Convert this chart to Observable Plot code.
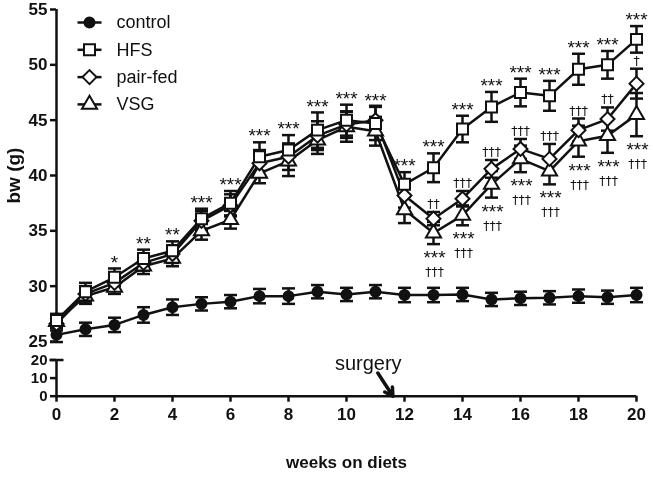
<!DOCTYPE html>
<html><head><meta charset="utf-8">
<script src="https://cdn.jsdelivr.net/npm/d3@7"></script>
<script src="https://cdn.jsdelivr.net/npm/@observablehq/plot@0.6"></script>
<style>
body{margin:0;background:#fff}
#chart{position:relative;width:653px;height:480px;background:#fff}
#chart svg{position:absolute;left:0;top:0;font-family:"Liberation Sans",Arial,sans-serif;will-change:transform}
</style>
</head><body><div id="chart"></div>
<script>
// ---- data ----
const weeks = [0,1,2,3,4,5,6,7,8,9,10,11,12,13,14,15,16,17,18,19,20];
const seriesNames = ["control","HFS","pair-fed","VSG"];
const control    = [25.6,26.1,26.5,27.4,28.1,28.4,28.6,29.1,29.1,29.5,29.25,29.5,29.2,29.2,29.25,28.8,28.9,28.95,29.1,29.0,29.2];
const controlErr = [0.65,0.6,0.65,0.7,0.7,0.6,0.6,0.65,0.7,0.6,0.6,0.6,0.65,0.65,0.6,0.6,0.6,0.6,0.6,0.6,0.65];
const hfs        = [26.9,29.5,30.8,32.5,33.2,36.1,37.5,41.7,42.3,44.1,45.0,44.7,39.2,40.7,44.2,46.2,47.5,47.2,49.6,50.0,52.3];
const hfsErr     = [0.6,0.8,0.8,0.8,0.85,0.9,1.1,1.3,1.35,1.6,1.4,1.5,1.1,1.3,1.2,1.35,1.25,1.35,1.4,1.25,1.2];
const pairFed    = [26.6,29.3,30.3,32.1,32.9,35.9,37.3,41.1,41.7,43.6,44.6,45.0,38.2,36.1,37.9,40.6,42.4,41.5,44.1,45.1,48.3];
const pairFedErr = [0.6,0.7,0.7,0.7,0.8,0.9,1.0,1.2,1.2,1.3,1.2,1.3,1.1,0.6,0.7,0.8,0.9,1.35,1.05,1.05,1.35];
const vsg        = [26.8,29.1,29.9,31.8,32.5,35.0,36.0,40.2,41.3,43.2,44.4,44.0,36.9,34.8,36.4,39.2,41.5,40.4,43.1,43.6,45.5];
const vsgErr     = [0.6,0.7,0.6,0.7,0.7,0.8,0.8,0.9,1.35,1.25,1.35,1.3,1.2,1.0,0.9,1.2,1.2,1.2,1.4,1.55,1.95];
// significance labels
const hfsStars   = ["","","*","**","**","***","***","***","***","***","***","***","***","***","***","***","***","***","***","***","***"];
const pfDaggers  = ["","","","","","","","","","","","","","††","†††","†††","†††","†††","†††","††","†"];
const vsgStars   = ["","","","","","","","","","","","","","***","***","***","***","***","***","***","***"];
const vsgDaggers = ["","","","","","","","","","","","","","†††","†††","†††","†††","†††","†††","†††","†††"];
// axis ticks (broken axis: upper 25–55, lower 0–20)
const xTicks = [0,2,4,6,8,10,12,14,16,18,20];
const yTicksUpper = [25,30,35,40,45,50,55];
const yTicksLower = [0,10,20];
// surgery annotation (data units: weeks, lower-panel bw)
const surgeryLabel = [{week:10.75, bw:17.8, text:"surgery"}];
const surgeryArrow = [{w1:11.08, b1:12.8, w2:11.6, b2:0}];

// ---- build tables ----
const valuesBy = {control, HFS: hfs, "pair-fed": pairFed, VSG: vsg};
const errBy = {control: controlErr, HFS: hfsErr, "pair-fed": pairFedErr, VSG: vsgErr};
const rows = [];
for (const s of seriesNames) weeks.forEach((w,i)=>rows.push({series:s, week:w, value:valuesBy[s][i], err:errBy[s][i]}));
const ann = weeks.map((w,i)=>({week:w, hfsTop:hfs[i]+hfsErr[i], pfTop:pairFed[i]+pairFedErr[i], vsgBot:vsg[i]-vsgErr[i],
  hs:hfsStars[i], pd:pfDaggers[i], vs:vsgStars[i], vd:vsgDaggers[i]}));

const INK = "#111";
const cap = (hw)=>({draw(ctx){ctx.moveTo(-hw,0); ctx.lineTo(hw,0);}});
const symbolOf = {control:"circle", HFS:"square", "pair-fed":"diamond2", VSG:"triangle"};
const rOf = {control:5, HFS:6.2, "pair-fed":6.3, VSG:5.6};
const baseStyle = {fontFamily: "'Liberation Sans', Arial, sans-serif", fontSize: "19px", fontWeight: "bold", color: INK, background: "transparent"};
const common = {width: 653, height: 480, marginLeft: 56, marginRight: 17, style: baseStyle};

// ---- lower panel: 0–20 with x axis ----
const lower = [];
lower.push(Plot.ruleX([0], {x: d=>d, y1: 0, y2: 20, stroke: INK, strokeWidth: 2.5}));
lower.push(Plot.dot([0], {x: d=>d, y: 20, symbol: cap(7), r: 5, fill: "none", stroke: INK, strokeWidth: 2.5}));
lower.push(Plot.ruleY([0], {y: d=>d, x1: 0, x2: 20, stroke: INK, strokeWidth: 2.5}));
lower.push(Plot.axisY({ticks: yTicksLower, tickSize: 6, tickPadding: 3, strokeWidth: 2.5, stroke: INK, fill: INK,
  fontSize: 15, fontWeight: "bold", label: null}));
lower.push(Plot.axisX({ticks: xTicks, tickSize: 6, tickPadding: 6, strokeWidth: 2.5, stroke: INK, fill: INK,
  fontSize: 17, fontWeight: "bold", label: "weeks on diets", labelAnchor: "center", labelOffset: 72, labelArrow: "none"}));
lower.push(Plot.text(surgeryLabel, {x:"week", y:"bw", text:"text", fontSize:20, fontWeight:"normal", fill: INK, lineAnchor:"middle"}));
lower.push(Plot.arrow(surgeryArrow, {x1:"w1", y1:"b1", x2:"w2", y2:"b2", stroke: INK, strokeWidth: 3.5, headLength: 12, bend: false}));

const lowerPlot = Plot.plot({...common, marginTop: 359.5, marginBottom: 84.3,
  x: {domain: [0,20]}, y: {domain: [0,20]}, marks: lower});

// ---- upper panel: 25–55 with data ----
const upper = [];
upper.push(Plot.ruleX([0], {x: d=>d, y1: 25, y2: 55, stroke: INK, strokeWidth: 2.5}));
upper.push(Plot.axisY({ticks: yTicksUpper, tickSize: 6, tickPadding: 3, strokeWidth: 2.5, stroke: INK, fill: INK,
  fontSize: 17, fontWeight: "bold", label: null}));
upper.push(Plot.text(["bw (g)"], {frameAnchor: "left", dx: -43, dy: 28, rotate: -90, text: d=>d, fontSize: 19, fontWeight: "bold", fill: INK, lineAnchor: "middle"}));

const order = ["control","VSG","pair-fed","HFS"];
for (const s of order) {
  const data = rows.filter(d=>d.series===s);
  upper.push(Plot.ruleX(data, {x:"week", y1: d=>d.value-d.err, y2: d=>d.value+d.err, stroke: INK, strokeWidth: 2.5}));
  upper.push(Plot.dot(data, {x:"week", y: d=>d.value+d.err, symbol: cap(6.5), r: 5, fill:"none", stroke: INK, strokeWidth: 2.5}));
  upper.push(Plot.dot(data, {x:"week", y: d=>d.value-d.err, symbol: cap(6.5), r: 5, fill:"none", stroke: INK, strokeWidth: 2.5}));
}
for (const s of order) {
  const data = rows.filter(d=>d.series===s);
  upper.push(Plot.line(data, {x:"week", y:"value", stroke: INK, strokeWidth: 2.5}));
}
for (const s of order) {
  const data = rows.filter(d=>d.series===s);
  upper.push(Plot.dot(data, {x:"week", y:"value", symbol: symbolOf[s], r: rOf[s],
    fill: s==="control" ? INK : "white", stroke: INK, strokeWidth: 2}));
}

const annText = {fill: INK, fontWeight: "normal", lineAnchor: "middle"};
const dagText = {fill: INK, fontWeight: "normal", lineAnchor: "middle", fontFamily: "'DejaVu Sans', sans-serif", fontSize: 12.5};
upper.push(Plot.text(ann.filter(d=>d.hs), {x:"week", y:"hfsTop", text:"hs", dy:-6, fontSize:19, ...annText}));
upper.push(Plot.text(ann.filter(d=>d.pd), {x:"week", y:"pfTop", text:"pd", dy:-8, ...dagText}));
upper.push(Plot.text(ann.filter(d=>d.vs), {x:"week", y:"vsgBot", text:"vs", dy:14, dx:1, fontSize:19, ...annText}));
upper.push(Plot.text(ann.filter(d=>d.vd), {x:"week", y:"vsgBot", text:"vd", dy:28, dx:1, ...dagText}));

seriesNames.forEach((s,i)=>{
  const dy = 13 + i*27.3;
  upper.push(Plot.dot([s], {frameAnchor:"top-left", dx: 33, dy, symbol: cap(12), r: 5, fill:"none", stroke: INK, strokeWidth: 2.5}));
  upper.push(Plot.dot([s], {frameAnchor:"top-left", dx: 33, dy, symbol: symbolOf[s], r: rOf[s],
    fill: s==="control" ? INK : "white", stroke: INK, strokeWidth: 2}));
  upper.push(Plot.text([s], {frameAnchor:"top-left", dx: 60, dy, text: d=>d, textAnchor:"start", lineAnchor:"middle",
    fontSize: 18, fontWeight:"normal", fill: INK}));
});

const upperPlot = Plot.plot({...common, marginTop: 9, marginBottom: 139,
  x: {domain: [0,20], axis: null}, y: {domain: [25,55], axis: null}, marks: upper});

const el = document.getElementById("chart");
el.appendChild(lowerPlot);
el.appendChild(upperPlot);
</script>
</body></html>
